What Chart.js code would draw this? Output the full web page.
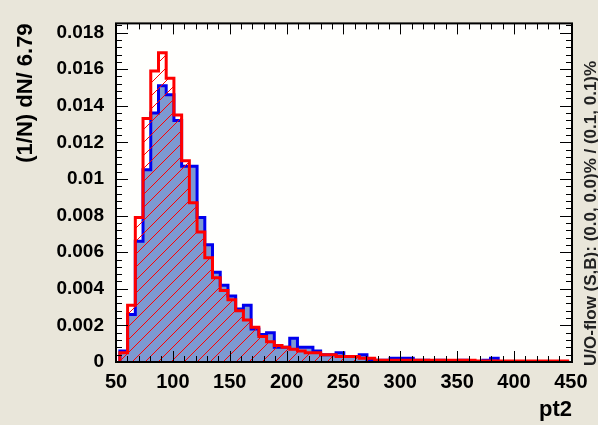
<!DOCTYPE html>
<html>
<head>
<meta charset="utf-8">
<script src="https://cdn.jsdelivr.net/npm/chart.js@4.4.1/dist/chart.umd.min.js"></script>
<style>
  html, body { margin: 0; padding: 0; background: #e9e6da; }
  canvas { display: block; }
</style>
</head>
<body>
<canvas id="hist" width="598" height="425"></canvas>
<script>
// binning of pt2 (bin width 6.79)
const binStart = 53.4;
const binWidth = 6.79;

// signal (blue, filled)
const signalValues = [
  0.0006, 0.0026, 0.0066, 0.0105, 0.0136, 0.0151, 0.0146, 0.0132, 0.0107, 0.0107,
  0.0079, 0.0064, 0.0049, 0.0042, 0.0036, 0.0029, 0.0031, 0.0018, 0.0015, 0.0016,
  0.0008, 0.0008, 0.0013, 0.0008, 0.0008, 0.0006, 0.0004, 0.0004, 0.0005, 0.0003,
  0.0003, 0.0004, 0.0001, 0.0001, 0.0001, 0.0002, 0.0002, 0.0002, 0.0001, 0.0001,
  0, 0.0001, 0, 0, 0.0001, 0, 0, 0.0001, 0.0002, 0,
  0, 0, 0, 0, 0, 0, 0, 0
];

// background (red, hatched)
const backgroundValues = [
  0.0005, 0.0031, 0.0079, 0.0133, 0.0159, 0.0169, 0.0155, 0.0135, 0.0110, 0.0087,
  0.0071, 0.0057, 0.0046, 0.0039, 0.0034, 0.0028, 0.0023, 0.0019, 0.0014, 0.0011,
  0.0009, 0.0008, 0.0007, 0.0006, 0.0005, 0.0005, 0.0004, 0.0004, 0.0003, 0.0003,
  0.0003, 0.0002, 0.0002, 0.0001, 0.0001, 0.0001, 0.0001, 0.0001, 0.0001, 0.0001,
  0.0001, 0.0001, 0.0001, 0.0001, 0.0001, 0.0001, 0.00005, 0.00005, 0.00005, 0.00005,
  0.00005, 0.00005, 0.00005, 0.00005, 0.00005, 0.00005, 0.00005, 0.00005
];

const xTicks = [50, 100, 150, 200, 250, 300, 350, 400, 450];
const yTicks = [0, 0.002, 0.004, 0.006, 0.008, 0.01, 0.012, 0.014, 0.016, 0.018];
const yTickLabels = ['0', '0.002', '0.004', '0.006', '0.008', '0.01', '0.012', '0.014', '0.016', '0.018'];

const xTitle = 'pt2';
const yTitle = '(1/N) dN/ 6.79';
const flowText = 'U/O-flow (S,B): (0.0, 0.0)% / (0.1, 0.1)%';

const FONT = "'Liberation Sans', Arial, Helvetica, sans-serif";

// step outline: rise at each bin's low edge, drop to 0 after the last bin
function toSteps(values) {
  const pts = [{ x: binStart, y: 0 }];
  values.forEach((v, i) => pts.push({ x: binStart + i * binWidth, y: v }));
  pts.push({ x: binStart + values.length * binWidth, y: 0 });
  return pts;
}

function hatch() {
  const s = 13;
  const c = document.createElement('canvas');
  c.width = s; c.height = s;
  const g = c.getContext('2d');
  g.strokeStyle = '#ff0000';
  g.lineWidth = 1;
  g.beginPath();
  g.moveTo(-1, s + 1); g.lineTo(s + 1, -1);
  g.stroke();
  return g.createPattern(c, 'repeat');
}

const rootFrame = {
  id: 'rootFrame',
  beforeDraw(chart) {
    const { ctx, chartArea: a } = chart;
    ctx.save();
    ctx.fillStyle = '#e9e6da';
    ctx.fillRect(0, 0, chart.width, chart.height);
    ctx.fillStyle = '#fffffd';
    ctx.fillRect(a.left, a.top, a.right - a.left, a.bottom - a.top);
    ctx.restore();
  },
  afterDatasetsDraw(chart) {
    const { ctx, chartArea: a, scales: { x, y } } = chart;
    ctx.save();
    ctx.strokeStyle = '#000';
    ctx.lineWidth = 1;
    ctx.beginPath();
    for (let v = 50; v <= 450; v += 10) {
      const px = Math.round(x.getPixelForValue(v)) + 0.5;
      const len = v % 50 === 0 ? 11 : 6;
      ctx.moveTo(px, a.bottom); ctx.lineTo(px, a.bottom - len);
      ctx.moveTo(px, a.top); ctx.lineTo(px, a.top + len);
    }
    for (let i = 0; i <= 46; i++) {
      const py = Math.round(y.getPixelForValue(i * 0.0004)) + 0.5;
      const len = i % 5 === 0 ? 12 : 6;
      ctx.moveTo(a.left, py); ctx.lineTo(a.left + len, py);
      ctx.moveTo(a.right, py); ctx.lineTo(a.right - len, py);
    }
    ctx.stroke();
    ctx.lineWidth = 2;
    ctx.strokeRect(a.left, a.top, a.right - a.left, a.bottom - a.top);

    // under/overflow note on the right edge
    ctx.translate(591, 366);
    ctx.rotate(-Math.PI / 2);
    ctx.fillStyle = '#222';
    ctx.font = 'bold 17px ' + FONT;
    ctx.textAlign = 'left';
    ctx.textBaseline = 'middle';
    ctx.fillText(flowText, 0, 0);
    ctx.restore();
  }
};

new Chart(document.getElementById('hist'), {
  type: 'line',
  data: {
    datasets: [
      {
        label: 'Signal',
        data: toSteps(signalValues),
        stepped: true,
        borderColor: '#0000ee',
        borderWidth: 3,
        backgroundColor: '#7d99d1',
        fill: 'origin',
        pointRadius: 0,
        order: 2
      },
      {
        label: 'Background',
        data: toSteps(backgroundValues),
        stepped: true,
        borderColor: '#ff0000',
        borderWidth: 3,
        backgroundColor: hatch(),
        fill: 'origin',
        pointRadius: 0,
        order: 1
      }
    ]
  },
  options: {
    responsive: false,
    animation: false,
    devicePixelRatio: 1,
    layout: { padding: { top: 12, right: 26, left: 0, bottom: 0 } },
    plugins: { legend: { display: false }, tooltip: { enabled: false } },
    scales: {
      x: {
        type: 'linear',
        min: 50,
        max: 451,
        grid: { display: false, drawTicks: false },
        border: { display: false },
        afterBuildTicks: s => { s.ticks = xTicks.map(v => ({ value: v })); },
        afterFit: s => { s.height = 63; },
        ticks: {
          autoSkip: false, maxRotation: 0, padding: 8,
          color: '#000',
          font: { family: FONT, size: 20, weight: 'bold' },
          callback: v => String(v)
        },
        title: {
          display: true, text: xTitle, align: 'end',
          color: '#000',
          font: { family: FONT, size: 22, weight: 'bold' },
          padding: { top: 0, bottom: 2 }
        }
      },
      y: {
        type: 'linear',
        min: 0,
        max: 0.0185,
        grid: { display: false, drawTicks: false },
        border: { display: false },
        afterBuildTicks: s => { s.ticks = yTicks.map(v => ({ value: v })); },
        afterFit: s => { s.width = 116; },
        ticks: {
          autoSkip: false, padding: 12,
          color: '#000',
          font: { family: FONT, size: 19, weight: 'bold' },
          callback: (v, i) => yTickLabels[i]
        },
        title: {
          display: true, text: yTitle, align: 'end',
          color: '#000',
          font: { family: FONT, size: 22, weight: 'bold' },
          padding: { top: 13, bottom: 0 }
        }
      }
    }
  },
  plugins: [rootFrame]
});
</script>
</body>
</html>
